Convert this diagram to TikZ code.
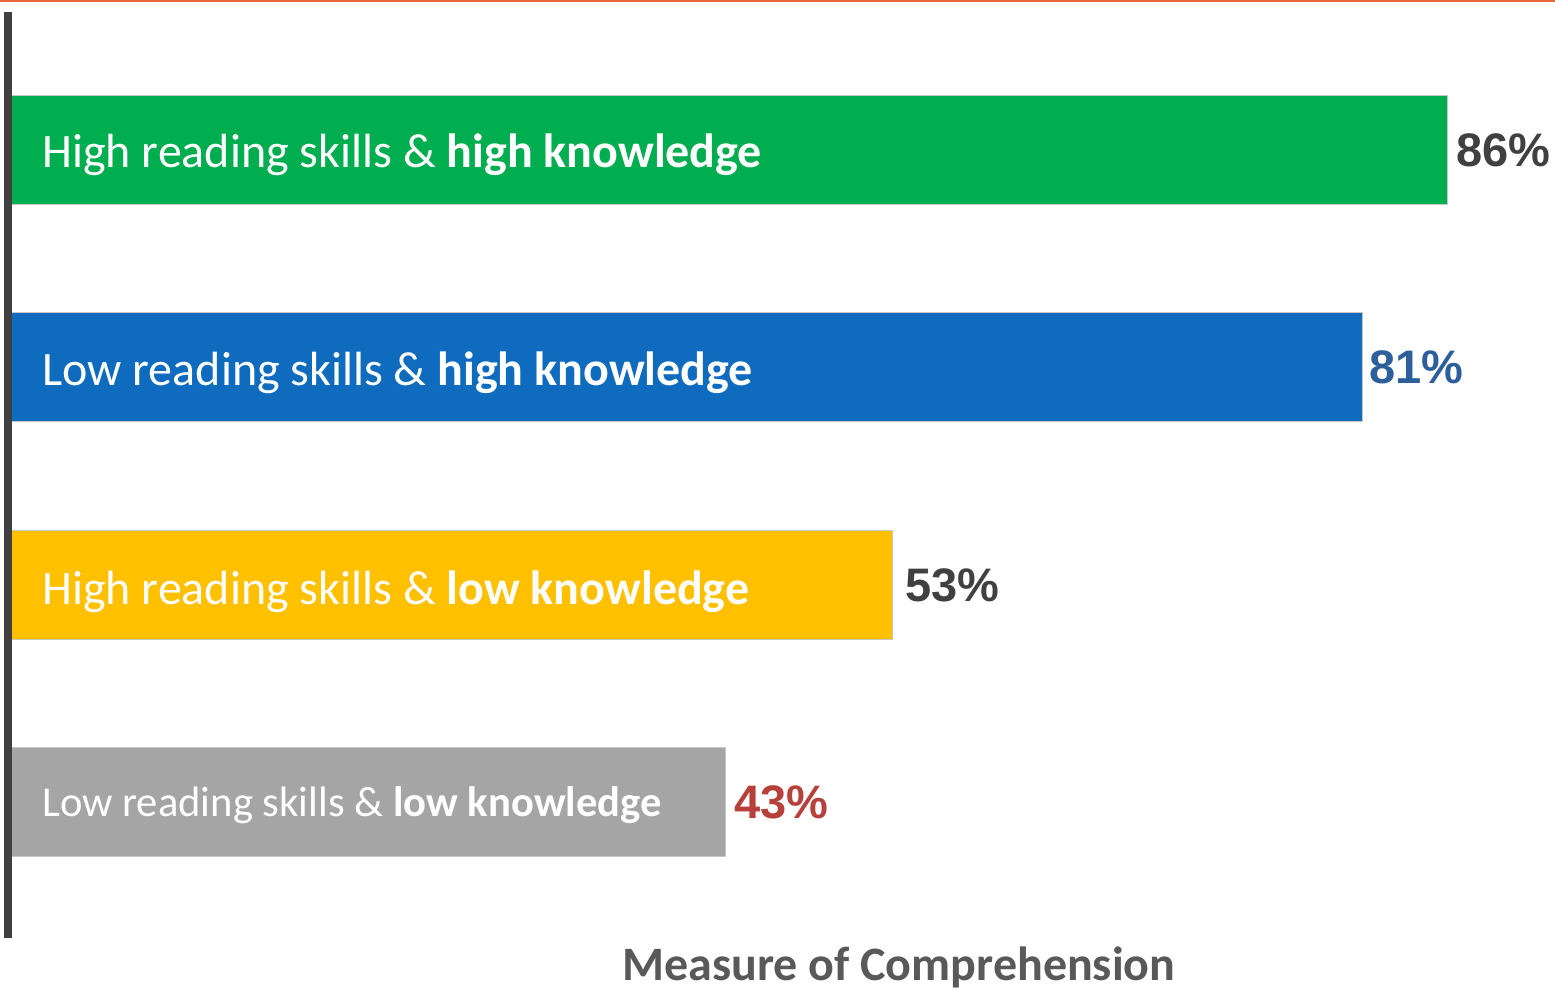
\documentclass[tikz,border=0pt]{standalone}
\usepackage{fontspec}
\setmainfont{Carlito}
\newfontfamily\valfont{Liberation Sans}
\usetikzlibrary{positioning}
\definecolor{barGreen}{HTML}{00AD4F}
\definecolor{barBlue}{HTML}{0F6BBE}
\definecolor{barYellow}{HTML}{FFC000}
\definecolor{barGray}{HTML}{A5A5A5}
\definecolor{axisGray}{HTML}{404040}
\definecolor{topOrange}{HTML}{E9633B}
\definecolor{valBlue}{HTML}{2D5F9C}
\definecolor{valRed}{HTML}{B8403A}
\definecolor{titleGray}{HTML}{595959}
\tikzset{
  x=0.5pt, y=-0.5pt,
  bar/.style={draw=black!22, line width=0.6pt, inner sep=0pt, minimum height=54.5pt, anchor=west},
  barlabel/.style={inner sep=0pt, anchor=base west, text=white, font=\fontsize{24}{28}\selectfont},
  barvalue/.style={inner sep=0pt, anchor=west, font=\valfont\bfseries\fontsize{23.5}{28}\selectfont},
}

\begin{document}
\begin{tikzpicture}
  \useasboundingbox (0,0) rectangle (1555,990);
  \fill[white] (0,0) rectangle (1555,990);

  % top rule
  \draw[topOrange, line width=1.2pt] (0,1) -- (1555,1);

  % bars
  \node[bar, fill=barGreen, minimum width=721pt] (hh) at (5,150) {};
  \node[bar, fill=barBlue, minimum width=678.5pt] (lh) at (5,367) {};
  \node[bar, fill=barYellow, minimum width=443.5pt] (hl) at (5,585) {};
  \node[bar, fill=barGray, minimum width=360pt] (ll) at (5,802) {};

  % axis
  \coordinate (axtop) at (7.5,12);
  \coordinate (axbot) at (7.5,938);
  \draw[axisGray, line width=4pt] (axtop) -- (axbot);

  % labels
  \node[barlabel] (hhlab) at ([shift={(37,18)}]hh.west) {High reading skills \& \textbf{high knowledge}};
  \node[barlabel] (lhlab) at ([shift={(37,19)}]lh.west) {Low reading skills \& \textbf{high knowledge}};
  \node[barlabel] (hllab) at ([shift={(37,19)}]hl.west) {High reading skills \& \textbf{low knowledge}};
  \node[barlabel, font=\fontsize{21.3}{25}\selectfont] (lllab) at ([shift={(37,14)}]ll.west) {Low reading skills \& \textbf{low knowledge}};

  % values
  \node[barvalue, right=4pt of hh.east, text=axisGray] (hhval) {86\%};
  \node[barvalue, right=3pt of lh.east, text=valBlue] (lhval) {81\%};
  \node[barvalue, right=6pt of hl.east, text=axisGray] (hlval) {53\%};
  \node[barvalue, right=4pt of ll.east, text=valRed] (llval) {43\%};

  % axis title
  \node[anchor=base, inner sep=0pt, text=titleGray, font=\bfseries\fontsize{24}{28}\selectfont] (title) at (899,980) {Measure of Comprehension};
\end{tikzpicture}
\end{document}
